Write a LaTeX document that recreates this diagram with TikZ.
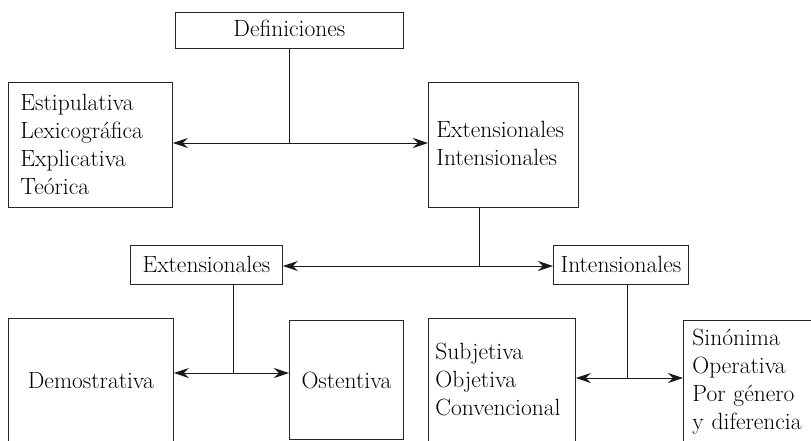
\documentclass[tikz,border=0pt]{standalone}
\usepackage{fontspec}
\usetikzlibrary{arrows.meta}
\tikzset{
  box/.style={draw=black!85, line width=0.8pt, inner ysep=0pt, anchor=base west,
    font=\fontsize{23.5}{28}\selectfont},
  cbox/.style={box, inner xsep=0pt, align=center},
  lbox/.style={box, align=left},
  conn/.style={draw=black!90, line width=1pt},
  biarrow/.style={conn, {Stealth[length=15pt,width=10pt,inset=5pt]}-{Stealth[length=15pt,width=10pt,inset=5pt]}}
}
\begin{document}
\begin{tikzpicture}[x=1pt,y=-1pt]
\useasboundingbox (0,0) rectangle (811,440);
\clip (0,0) rectangle (811,440);
% boxes
\node[cbox, text width=228pt, text height=24pt, text depth=12pt] (def) at (175,36) {Definiciones};
\node[lbox, inner xsep=12pt, text width=140pt, text height=28pt, text depth=97pt] (tipos) at (8,110)
  {Estipulativa\\Lexicográfica\\Explicativa\\Teórica};
\node[lbox, inner xsep=8pt, text width=134pt, text height=55pt, text depth=70pt] (ei) at (428,137)
  {Extensionales\\Intensionales};
\node[cbox, text width=152pt, text height=27pt, text depth=12pt] (ext) at (130,272) {Extensionales};
\node[cbox, text width=135pt, text height=27pt, text depth=12pt] (int) at (553,272) {Intensionales};
\node[cbox, text width=165pt, text height=70pt, text depth=62pt] (dem) at (8,388) {Demostrativa};
\node[cbox, text width=114pt, text height=68pt, text depth=51pt] (ost) at (289,388) {Ostentiva};
\node[lbox, inner xsep=7pt, text width=133pt, text height=41pt, text depth=91pt] (sub) at (428,359)
  {Subjetiva\\Objetiva\\Convencional};
\node[lbox, inner xsep=9pt, text width=122pt, text height=25pt, text depth=105pt] (sin) at (683,345)
  {Sinónima\\Operativa\\Por género\\y diferencia};
% junctions
\coordinate (j1) at (289,143);
\coordinate (j2) at (479,266);
\coordinate (j3) at (233,373);
\coordinate (j4) at (627,378);
% connectors
\draw[conn] (def.south -| j1) -- (j1);
\draw[biarrow] (tipos.east |- j1) -- (ei.west |- j1);
\draw[conn] (ei.south -| j2) -- (j2);
\draw[biarrow] (ext.east |- j2) -- (int.west |- j2);
\draw[conn] (ext.south -| j3) -- (j3);
\draw[biarrow] (dem.east |- j3) -- (ost.west |- j3);
\draw[conn] (int.south -| j4) -- (j4);
\draw[biarrow] (sub.east |- j4) -- (sin.west |- j4);
\end{tikzpicture}
\end{document}
